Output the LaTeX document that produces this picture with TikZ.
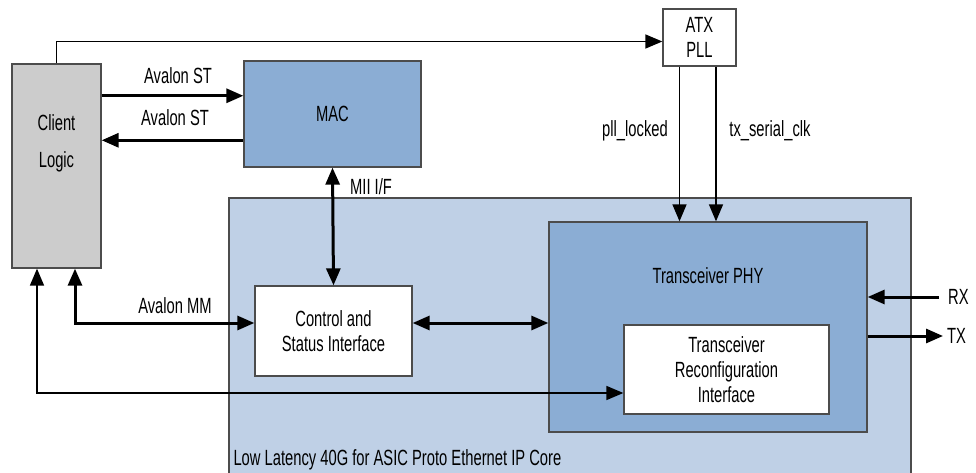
\documentclass[tikz,border=0pt]{standalone}
\usepackage{fontspec}
\setmainfont[FakeStretch=0.67]{Liberation Sans}
\usetikzlibrary{arrows.meta,calc}
\definecolor{clientgray}{HTML}{CCCCCC}
\definecolor{macblue}{HTML}{8BADD4}
\definecolor{coreblue}{HTML}{BFD0E6}
\begin{document}
\begin{tikzpicture}[x=1pt,y=-1pt,
        every node/.style={font=\fontsize{22}{25}\selectfont},
        blk/.style={draw=black!70,line width=1.3pt,inner sep=0pt,align=center},
        bus/.style={line width=3pt},
        sig/.style={line width=1.5pt},
        >={Triangle[length=17pt,width=14pt]}]
    \useasboundingbox (0,0) rectangle (976,473);

    \node[blk,fill=coreblue,minimum width=682pt,minimum height=282pt] (core) at (570,339) {};
    \node[anchor=west] (coretitle) at (230,460) {Low Latency 40G for ASIC Proto Ethernet IP Core};

    \node[blk,fill=clientgray,minimum width=89pt,minimum height=204pt,
        label={[align=center,yshift=23pt]center:Client\\[12pt]Logic}] (client) at (56.5,166) {};
    \node[blk,fill=white,minimum width=73pt,minimum height=57pt] (atx) at (699.5,37.5) {ATX\\PLL};
    \node[blk,fill=macblue,minimum width=177pt,minimum height=106pt] (mac) at (332.5,114) {MAC};
    \node[blk,fill=white,minimum width=157pt,minimum height=90pt] (csi) at (333.5,331) {Control and\\Status Interface};
    \node[blk,fill=macblue,minimum width=318pt,minimum height=210pt,
        label={[anchor=center,yshift=-54pt]north:Transceiver PHY}] (phy) at (708,327) {};
    \node[blk,fill=white,minimum width=205pt,minimum height=89pt] (reconf) at (726.5,369.5) {Transceiver\\Reconfiguration\\Interface};

    \node[anchor=west,inner xsep=9pt] (rx) at (939,297) {RX};
    \node[anchor=west,inner xsep=4pt] (tx) at (943,336) {TX};

    % client <-> mac
    \coordinate (st1) at ($(mac.north west)!0.33!(mac.south west)$);
    \coordinate (st2) at ($(mac.north west)!0.745!(mac.south west)$);
    \draw[bus,->] (st1 -| client.east) -- (st1);
    \draw[bus,->] (st2) -- (st2 -| client.east);
    \node (stin) at (178,76) {Avalon ST};
    \node (stout) at (175,118) {Avalon ST};

    \draw[sig,->] (client.north) |- ([yshift=-4pt]atx.west);

    \draw[bus,<->] (mac.south) -- (csi.north);
    \node (mii) at (371,187) {MII I/F};

    \coordinate (mm) at (75,323);
    \draw[bus,<->] (client.south -| mm) |- ([yshift=8pt]csi.west);
    \node (mmlbl) at (175,306) {Avalon MM};

    \draw[bus,<->] ([yshift=8pt]csi.east) -- ([yshift=8pt]csi.east -| phy.west);

    \coordinate (rc) at (37,393);
    \draw[sig,<->] (client.south -| rc) |- (rc -| reconf.west);

    % pll signals
    \draw[sig,->] ([xshift=-20pt]atx.south) -- ([xshift=-20pt]atx.south |- phy.north);
    \draw[sig,->] ([xshift=16.5pt]atx.south) -- ([xshift=16.5pt]atx.south |- phy.north);
    \node (locked) at (635,131) {pll\_locked};
    \node (serclk) at (770,131) {tx\_serial\_clk};

    \draw[bus,->] (rx.west) -- (rx -| phy.east);
    \draw[bus,->] (tx -| phy.east) -- (tx.west);
\end{tikzpicture}
\end{document}
